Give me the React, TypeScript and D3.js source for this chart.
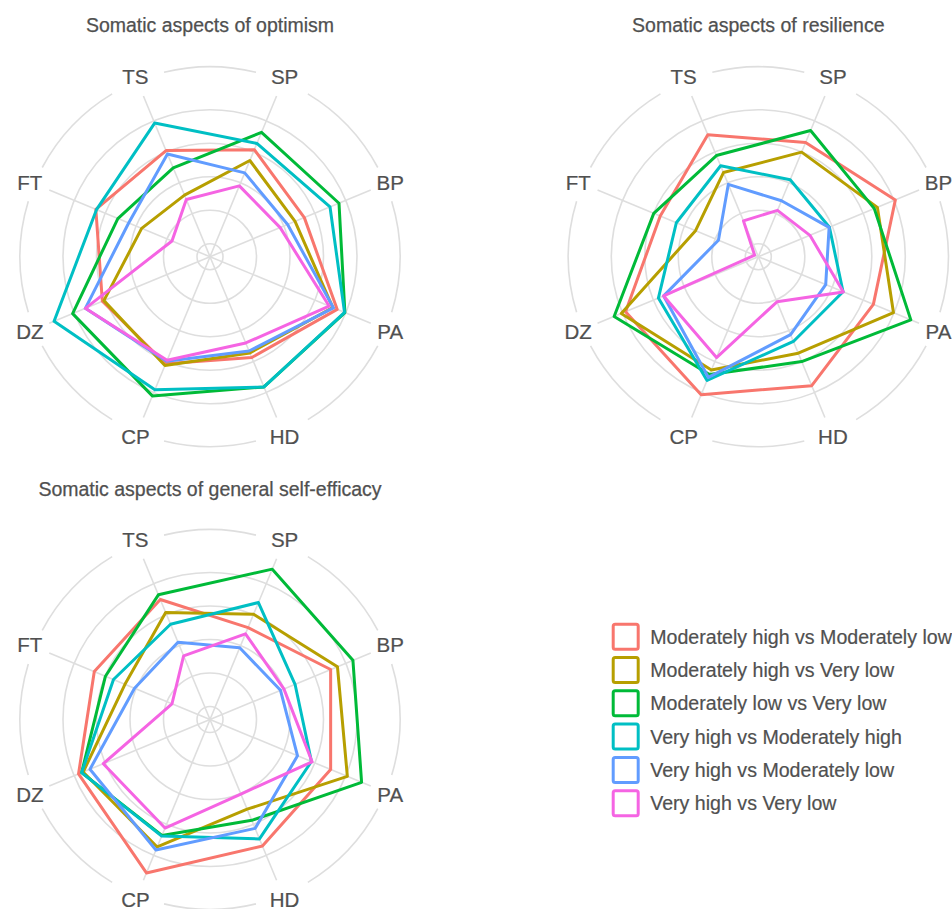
import React from "react";
import * as d3 from "d3";

// ---- categories / labels ----
const AXES = ["SP", "BP", "PA", "HD", "CP", "DZ", "FT", "TS"];
const SERIES = [
  "Moderately high vs Moderately low",
  "Moderately high vs Very low",
  "Moderately low vs Very low",
  "Very high vs Moderately high",
  "Very high vs Moderately low",
  "Very high vs Very low",
];
const COLORS = ["#F8766D", "#B79F00", "#00BA38", "#00BFC4", "#619CFF", "#F564E3"];
const RING_BREAKS = [0, 1, 2, 3, 4];
const TITLES = [
  "Somatic aspects of optimism",
  "Somatic aspects of resilience",
  "Somatic aspects of general self-efficacy",
];

// ---- values (rows = series, columns = AXES order) ----
const optimismValues: number[][] = [
  [3.07, 2.66, 3.72, 2.87, 3.07, 3.09, 3.3, 3.04],
  [2.72, 2.36, 3.58, 2.72, 3.13, 3.04, 1.82, 1.6],
  [3.63, 3.78, 3.97, 3.82, 4.11, 4.05, 2.59, 2.48],
  [3.27, 3.49, 3.96, 3.82, 3.91, 4.65, 3.28, 3.93],
  [2.32, 2.12, 3.6, 2.66, 2.99, 3.64, 2.24, 2.93],
  [1.9, 1.88, 3.46, 2.4, 2.96, 3.64, 0.84, 1.46],
];
const resilienceValues: number[][] = [
  [3.3, 4.04, 3.33, 3.78, 4.07, 3.9, 2.78, 3.55],
  [2.99, 3.46, 3.98, 2.73, 3.27, 4.04, 1.64, 2.33],
  [3.69, 3.36, 4.54, 3.0, 3.42, 4.27, 2.99, 2.88],
  [2.1, 1.91, 2.35, 2.35, 3.61, 2.84, 2.26, 2.55],
  [1.42, 1.9, 1.79, 2.13, 3.51, 2.67, 0.9, 1.95],
  [1.11, 1.28, 2.36, 1.07, 2.87, 2.67, -0.27, 0.77],
];
const selfEfficacyValues: number[][] = [
  [2.58, 3.51, 3.51, 3.7, 4.57, 3.86, 3.35, 3.49],
  [3.01, 3.73, 4.05, 2.51, 3.73, 3.71, 2.36, 3.07],
  [4.47, 4.23, 4.51, 2.87, 3.36, 3.76, 2.99, 3.64],
  [3.39, 2.36, 2.89, 3.47, 3.38, 3.76, 2.73, 2.69],
  [1.93, 1.89, 2.44, 3.13, 3.83, 3.49, 2.05, 2.11],
  [2.38, 2.0, 2.91, 2.02, 3.12, 3.06, 0.84, 1.67],
];

const FONT = "'Liberation Sans', Arial, Helvetica, sans-serif";
const GRID = "#dedede";
const TEXT = "#505050";

const angle = d3.scaleBand<string>().domain(AXES).range([0, 2 * Math.PI]);
const ang = (a: string) => (angle(a) as number) + angle.bandwidth() / 2;
const rScale = d3.scaleLinear().domain([0, 4]).range([13, 147]);
const SPOKE_R = 174;
const OUTER_R = 190;
const LABEL_R = 195;

function Radar({ cx, cy, title, titleY, values }: { cx: number; cy: number; title: string; titleY: number; values: number[][] }) {
  const line = d3
    .lineRadial<number>()
    .angle((_, i) => ang(AXES[i]))
    .radius((v) => rScale(v))
    .curve(d3.curveLinearClosed);

  const gapOf = (a: string) => (Math.abs(Math.sin(ang(a))) < 0.5 ? (8.5 * Math.PI) / 180 : (5.5 * Math.PI) / 180);
  const arcs = AXES.map((a, i) => {
    const b = AXES[(i + 1) % AXES.length];
    let a0 = ang(a) + gapOf(a);
    let a1 = ang(b) - gapOf(b);
    if (a1 < a0) a1 += 2 * Math.PI;
    const p = d3.path();
    p.arc(0, 0, OUTER_R, a0 - Math.PI / 2, a1 - Math.PI / 2);
    return p.toString();
  });

  return (
    <g>
      <text x={cx} y={titleY} textAnchor="middle" dominantBaseline="central" fontFamily={FONT} fontSize={19.5} fill={TEXT} stroke={TEXT} strokeWidth={0.25}>
        {title}
      </text>
      <g transform={`translate(${cx},${cy})`}>
        {RING_BREAKS.map((b) => (
          <circle key={b} r={rScale(b)} fill="none" stroke={GRID} strokeWidth={1.6} />
        ))}
        {AXES.map((a) => (
          <line
            key={a}
            x1={0}
            y1={0}
            x2={SPOKE_R * Math.sin(ang(a))}
            y2={-SPOKE_R * Math.cos(ang(a))}
            stroke={GRID}
            strokeWidth={1.6}
          />
        ))}
        {arcs.map((d, i) => (
          <path key={i} d={d} fill="none" stroke={GRID} strokeWidth={1.6} />
        ))}
        {values.map((row, si) => (
          <path key={si} d={line(row) || ""} fill="none" stroke={COLORS[si]} strokeWidth={3} strokeLinejoin="round" />
        ))}
        {AXES.map((a) => (
          <text
            key={a}
            x={LABEL_R * Math.sin(ang(a))}
            y={-LABEL_R * Math.cos(ang(a))}
            textAnchor="middle"
            dominantBaseline="central"
            fontFamily={FONT}
            fontSize={20.5}
            fill={TEXT}
            stroke={TEXT}
            strokeWidth={0.2}
          >
            {a}
          </text>
        ))}
      </g>
    </g>
  );
}

function Legend({ x, y }: { x: number; y: number }) {
  const pitch = 33.3;
  return (
    <g transform={`translate(${x},${y})`}>
      {SERIES.map((s, i) => (
        <g key={s} transform={`translate(0,${i * pitch})`}>
          <rect x={1.5} y={1.5} width={25} height={25} rx={2} fill="#ffffff" stroke={COLORS[i]} strokeWidth={3} />
          <text x={38.5} y={14} dominantBaseline="central" fontFamily={FONT} fontSize={19.6} fill={TEXT} stroke={TEXT} strokeWidth={0.2}>
            {s}
          </text>
        </g>
      ))}
    </g>
  );
}

export default function App() {
  return (
    <svg width={952} height={909} style={{ position: "absolute", left: 0, top: 0, background: "#ffffff" }}>
      <rect width={952} height={909} fill="#ffffff" />
      <Radar cx={210} cy={256.7} title={TITLES[0]} titleY={25} values={optimismValues} />
      <Radar cx={758.3} cy={256.7} title={TITLES[1]} titleY={25} values={resilienceValues} />
      <Radar cx={210} cy={719.5} title={TITLES[2]} titleY={489} values={selfEfficacyValues} />
      <Legend x={611.7} y={622.7} />
    </svg>
  );
}
